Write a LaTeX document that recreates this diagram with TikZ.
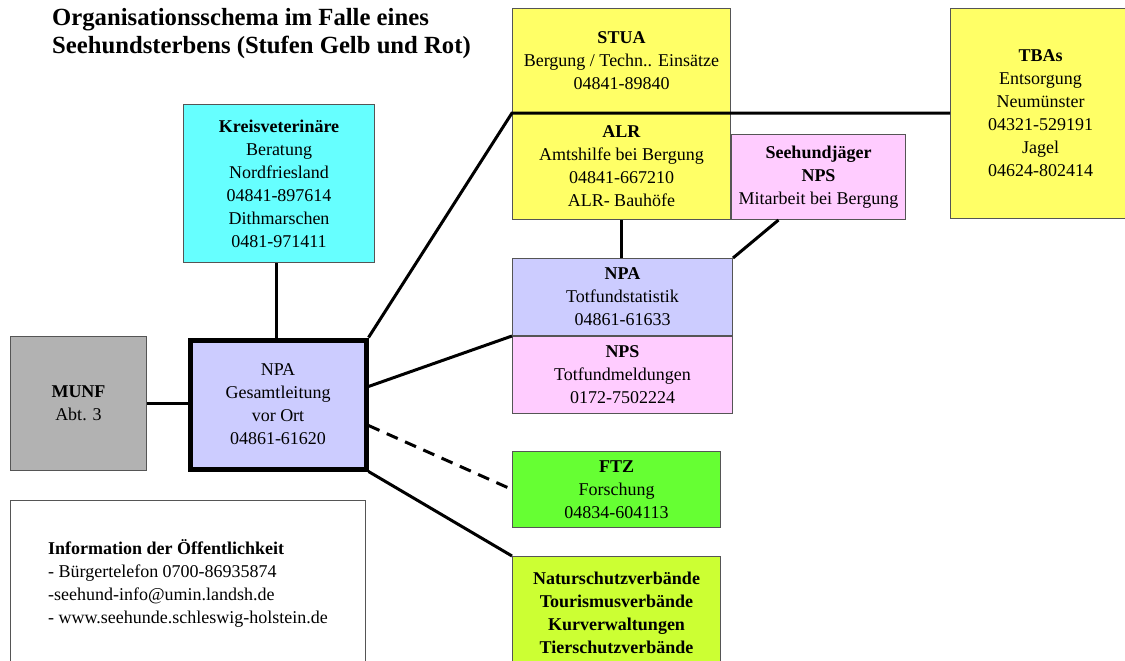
\documentclass[tikz,border=0pt]{standalone}
\usepackage{fontspec}
\setmainfont{Liberation Serif}
\usetikzlibrary{positioning}
\definecolor{VetCyan}{HTML}{66FFFF}
\definecolor{StuaYellow}{HTML}{FFFF66}
\definecolor{NpsPink}{HTML}{FFCCFF}
\definecolor{NpaLavender}{HTML}{CCCCFF}
\definecolor{FtzGreen}{HTML}{66FF33}
\definecolor{VerbandLime}{HTML}{CCFF33}
\definecolor{MunfGrey}{HTML}{B2B2B2}
\definecolor{BoxEdge}{HTML}{555555}

\begin{document}
\begin{tikzpicture}[x=1pt, y=-1pt, node distance=0pt,
  box/.style={draw=BoxEdge, line width=1pt, rectangle, align=center, inner sep=2pt,
    anchor=north west, font=\fontsize{18}{23}\selectfont},
  link/.style={line width=3pt, black}]
  \clip (0,0) rectangle (1125,661);
  \fill[white] (0,0) rectangle (1125,661);
  % title
  \node (title) [anchor=west, align=left, inner sep=0pt, font=\fontsize{24.7}{28}\selectfont\bfseries]
    at (52,34) {Organisationsschema im Falle eines\\Seehundsterbens (Stufen Gelb und Rot)};
  % upper right column
  \node (stua) [box, fill=StuaYellow, minimum width=218pt, minimum height=104pt] at (512,8)
    {\textbf{STUA}\\Bergung / Techn.. Einsätze\\04841-89840};
  \node (alr) [box, fill=StuaYellow, minimum width=218pt, minimum height=106pt, below=of stua]
    {\textbf{ALR}\\Amtshilfe bei Bergung\\04841-667210\\ALR- Bauhöfe};
  \node (seej) [box, fill=NpsPink, minimum width=174pt, minimum height=85pt, anchor=south west]
    at (alr.south east) {\textbf{Seehundjäger}\\\textbf{NPS}\\Mitarbeit bei Bergung};
  \node (tbas) [box, fill=StuaYellow, minimum width=180pt, minimum height=210pt] at (950,8)
    {\textbf{TBAs}\\Entsorgung\\Neumünster\\04321-529191\\Jagel\\04624-802414};
  \node (stat) [box, fill=NpaLavender, minimum width=220pt, minimum height=77pt] at (512,258)
    {\textbf{NPA}\\Totfundstatistik\\04861-61633};
  \node (nps) [box, fill=NpsPink, minimum width=220pt, minimum height=77pt, below=of stat]
    {\textbf{NPS}\\Totfundmeldungen\\0172-7502224};
  \node (ftz) [box, fill=FtzGreen, minimum width=208pt, minimum height=76pt] at (512,451)
    {\textbf{FTZ}\\Forschung\\04834-604113};
  \node (verb) [box, fill=VerbandLime, minimum width=208pt, minimum height=112pt] at (512,556)
    {\textbf{Naturschutzverbände}\\\textbf{Tourismusverbände}\\\textbf{Kurverwaltungen}\\\textbf{Tierschutzverbände}};
  % left side
  \node (kreis) [box, fill=VetCyan, minimum width=191pt, minimum height=158pt] at (183,104)
    {\textbf{Kreisveterinäre}\\Beratung\\Nordfriesland\\04841-897614\\Dithmarschen\\0481-971411};
  \node (npa) [box, fill=NpaLavender, draw=black, line width=5pt, minimum width=176pt, minimum height=129pt]
    at (187.5,337.5) {NPA\\Gesamtleitung\\vor Ort\\04861-61620};
  \node (munf) [box, fill=MunfGrey, minimum width=136pt, minimum height=134pt] at (10,336)
    {\textbf{MUNF}\\Abt. 3};
  \node (info) [box, fill=white, minimum width=355pt, minimum height=165pt, align=left] at (10,500)
    {\textbf{Information der Öffentlichkeit}\\- Bürgertelefon 0700-86935874\\-seehund-info@umin.landsh.de\\- www.seehunde.schleswig-holstein.de};
  % connectors
  \draw[link] (munf.east) -- (munf.east -| npa.west);
  \draw[link] ([xshift=-1.5pt]npa.north) -- ([xshift=-1.5pt]npa.north |- kreis.south);
  \draw[link] (npa.north east) -- (alr.north west) -- (alr.north west -| tbas.west);
  \draw[link] (alr.south) -- (alr.south |- stat.north);
  \draw[link] ([xshift=-40pt]seej.south) -- (stat.north east);
  \draw[link] ([yshift=18pt]npa.east) -- (stat.south west);
  \draw[link, dashed, dash pattern=on 12pt off 8pt] ([yshift=-21pt]npa.east) -- (ftz.west);
  \draw[link] (npa.south east) -- (verb.north west);
\end{tikzpicture}
\end{document}
